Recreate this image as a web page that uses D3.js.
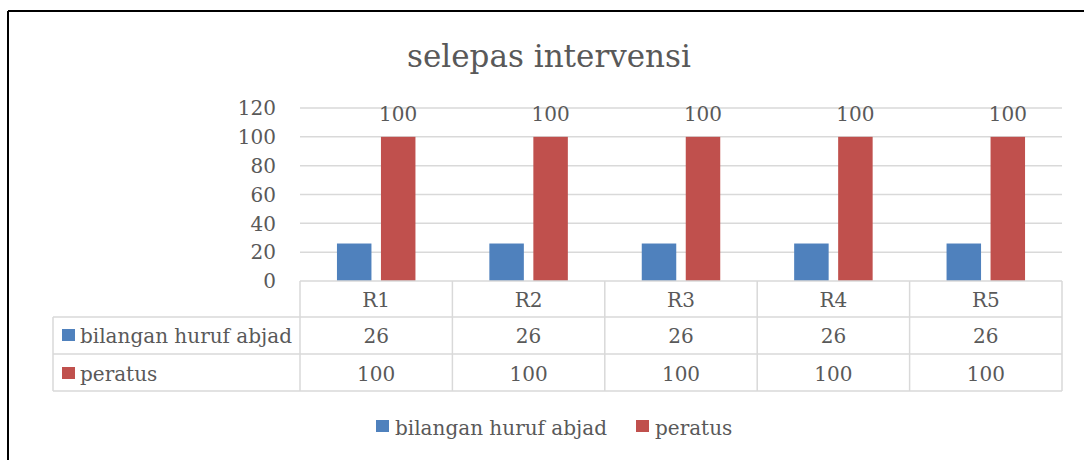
<!DOCTYPE html>
<html>
<head>
<meta charset="utf-8">
<script src="https://cdn.jsdelivr.net/npm/d3@7"></script>
<style>
  body { margin: 0; background: #fff; }
  text { font-family: "DejaVu Serif", serif; fill: #595959; }
</style>
</head>
<body>
<div id="chart"></div>
<script>
var chartTitle = "selepas intervensi";
var categories = ["R1", "R2", "R3", "R4", "R5"];
var seriesNames = ["bilangan huruf abjad", "peratus"];
var hurufValues = [26, 26, 26, 26, 26];
var peratusValues = [100, 100, 100, 100, 100];
var yTicks = [0, 20, 40, 60, 80, 100, 120];
var colors = ["#4f81bd", "#c0504d"];

var series = [hurufValues, peratusValues];

var width = 1084, height = 460;
var svg = d3.select("#chart").append("svg").attr("width", width).attr("height", height);

// outer frame (top + left edge only visible)
svg.append("line").attr("x1", 8).attr("x2", width).attr("y1", 11).attr("y2", 11)
    .attr("stroke", "#000").attr("stroke-width", 2);
svg.append("line").attr("x1", 8).attr("x2", 8).attr("y1", 11).attr("y2", height)
    .attr("stroke", "#000").attr("stroke-width", 2);

svg.append("text").attr("x", 549).attr("y", 67).attr("text-anchor", "middle")
    .style("font-size", "31px").text(chartTitle);

var x = d3.scaleBand().domain(categories).range([300, 1062]);
var xs = d3.scaleBand().domain(seriesNames).range([0, x.bandwidth()])
    .paddingInner(0.216).paddingOuter(0.84);
var y = d3.scaleLinear().domain([0, 120]).range([281, 108]);

// gridlines
svg.append("g").selectAll("line").data(yTicks.filter(function(d) { return d > 0; }))
    .enter().append("line")
    .attr("x1", 300).attr("x2", 1062)
    .attr("y1", function(d) { return y(d); }).attr("y2", function(d) { return y(d); })
    .attr("stroke", "#d9d9d9").attr("stroke-width", 1.5);

// y labels
svg.append("g").selectAll("text").data(yTicks).enter().append("text")
    .attr("x", 276).attr("y", function(d) { return y(d); }).attr("dy", "0.36em")
    .attr("text-anchor", "end").style("font-size", "20px")
    .text(function(d) { return d; });

// bars
seriesNames.forEach(function(name, si) {
    svg.append("g").selectAll("rect").data(series[si]).enter().append("rect")
        .attr("x", function(d, i) { return x(categories[i]) + xs(name); })
        .attr("width", xs.bandwidth())
        .attr("y", function(d) { return y(d); })
        .attr("height", function(d) { return y(0) - y(d); })
        .attr("fill", colors[si]);
});

// data labels on peratus
svg.append("g").selectAll("text").data(peratusValues).enter().append("text")
    .attr("x", function(d, i) { return x(categories[i]) + xs("peratus") + xs.bandwidth() / 2; })
    .attr("y", function(d) { return y(d) - 16; })
    .attr("text-anchor", "middle").style("font-size", "20px")
    .text(function(d) { return d; });

// data table
var rowY = [281, 317, 354, 391];
var tbl = svg.append("g").attr("stroke", "#d9d9d9").attr("stroke-width", 1.5);
tbl.append("line").attr("x1", 300).attr("x2", 1062).attr("y1", rowY[0]).attr("y2", rowY[0]);
[1, 2, 3].forEach(function(r) {
    tbl.append("line").attr("x1", 53).attr("x2", 1062).attr("y1", rowY[r]).attr("y2", rowY[r]);
});
tbl.append("line").attr("x1", 53).attr("x2", 53).attr("y1", rowY[1]).attr("y2", rowY[3]);
categories.forEach(function(c) {
    tbl.append("line").attr("x1", x(c)).attr("x2", x(c)).attr("y1", rowY[0]).attr("y2", rowY[3]);
});
tbl.append("line").attr("x1", 1062).attr("x2", 1062).attr("y1", rowY[0]).attr("y2", rowY[3]);

svg.append("g").selectAll("text").data(categories).enter().append("text")
    .attr("x", function(d) { return x(d) + x.bandwidth() / 2; })
    .attr("y", 307).attr("text-anchor", "middle").style("font-size", "20px")
    .text(function(d) { return d; });

var rowBase = [343, 381];
seriesNames.forEach(function(name, si) {
    svg.append("rect").attr("x", 62).attr("y", rowBase[si] - 14).attr("width", 13).attr("height", 12)
        .attr("fill", colors[si]);
    svg.append("text").attr("x", 80).attr("y", rowBase[si]).style("font-size", "20px").text(name);
    svg.append("g").selectAll("text").data(series[si]).enter().append("text")
        .attr("x", function(d, i) { return x(categories[i]) + x.bandwidth() / 2; })
        .attr("y", rowBase[si]).attr("text-anchor", "middle").style("font-size", "20px")
        .text(function(d) { return d; });
});

// legend
var legendX = [376, 636];
seriesNames.forEach(function(name, si) {
    svg.append("rect").attr("x", legendX[si]).attr("y", 420).attr("width", 13).attr("height", 12)
        .attr("fill", colors[si]);
    svg.append("text").attr("x", legendX[si] + 19).attr("y", 435).style("font-size", "20px").text(name);
});
</script>
</body>
</html>
